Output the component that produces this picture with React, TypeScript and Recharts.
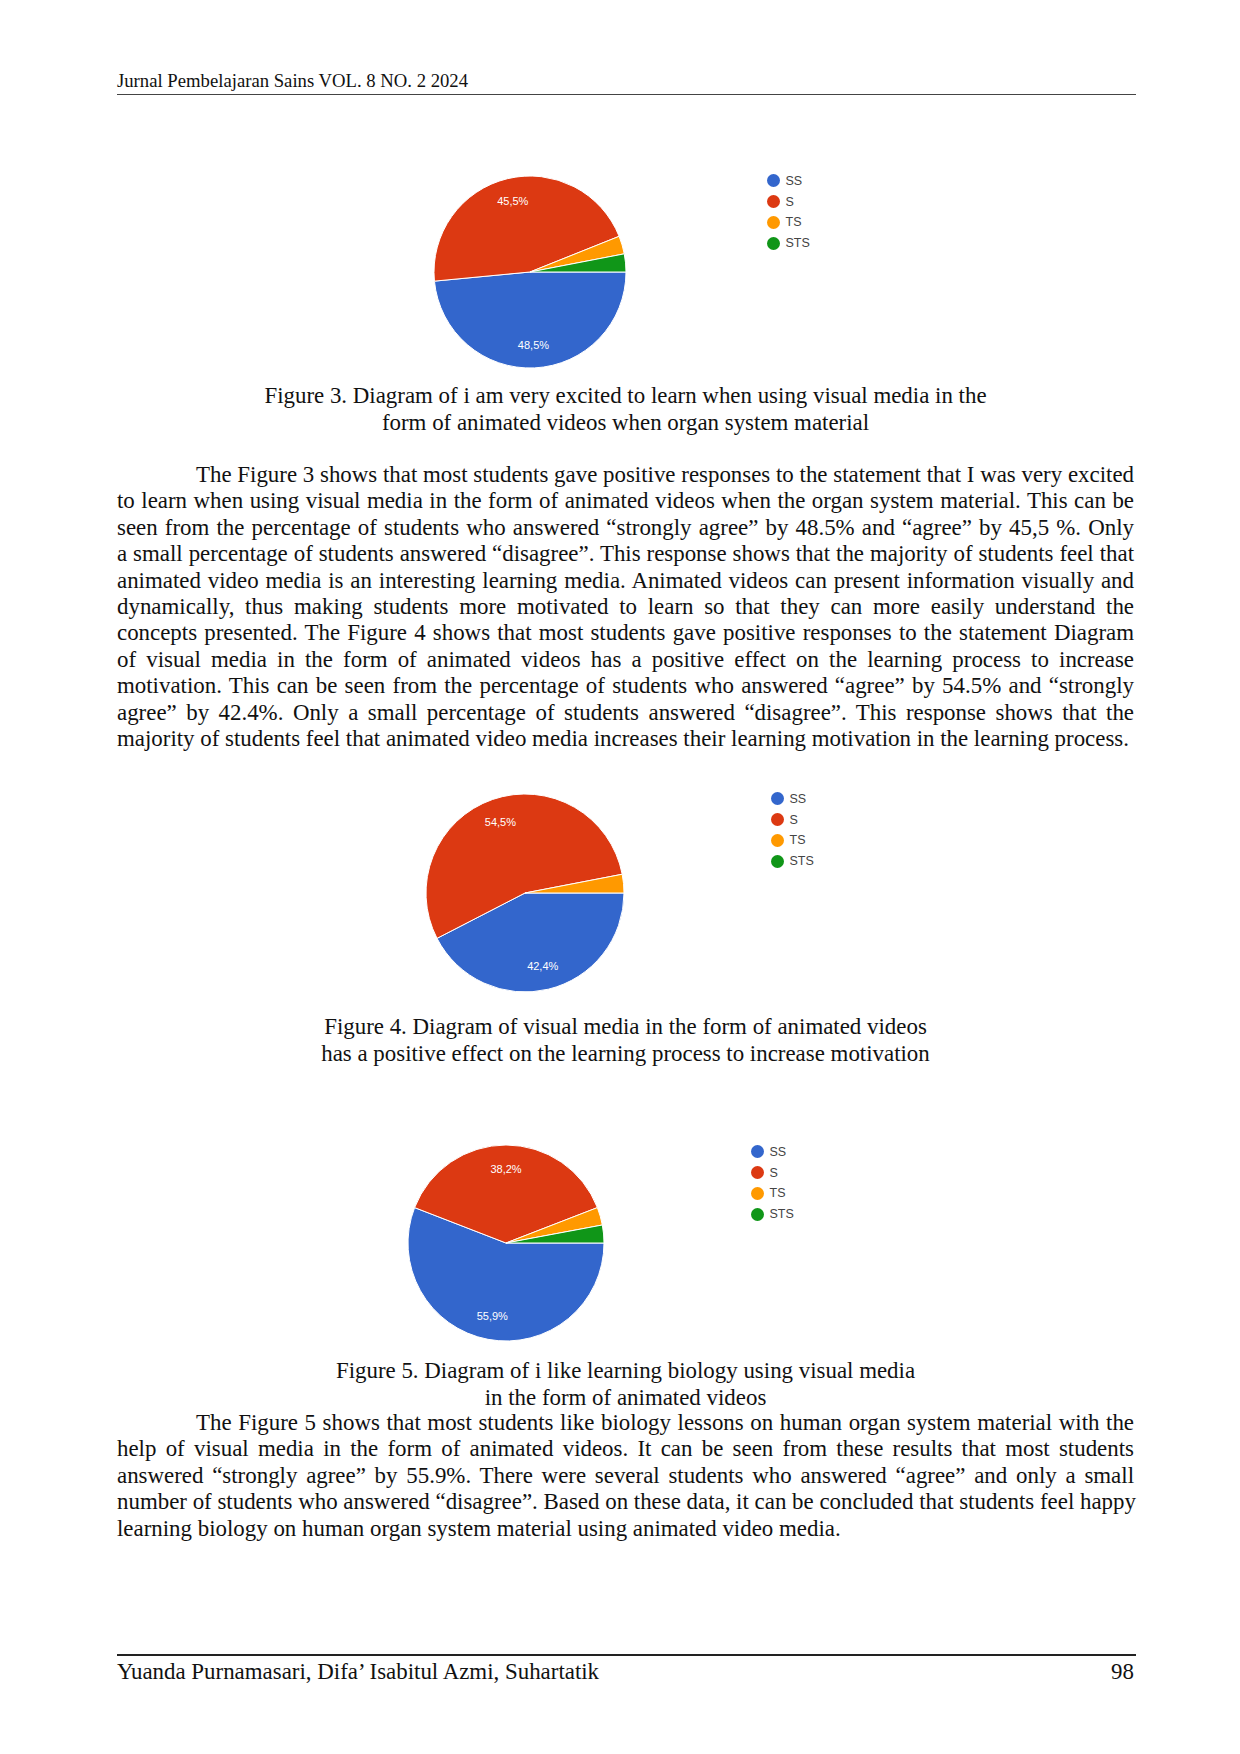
import React from 'react'
import { PieChart, Pie, Cell, Legend } from 'recharts'

// answer categories (Google Forms style)
const categories = ['SS', 'S', 'TS', 'STS']
const sliceColors = ['#3366cc', '#dc3912', '#ff9900', '#109618']

// number of students per category
const fig3Counts = [16, 15, 1, 1]
const fig4Counts = [14, 18, 1, 0]
const fig5Counts = [19, 13, 1, 1]

const headerText = 'Jurnal Pembelajaran Sains VOL. 8 NO. 2 2024'
const footerText = 'Yuanda Purnamasari, Difa\u2019 Isabitul Azmi, Suhartatik'
const pageNumber = '98'

const fig3Caption = [
  'Figure 3. Diagram of i am very excited to learn when using visual media in the',
  'form of animated videos when organ system material',
]
const fig4Caption = [
  'Figure 4. Diagram of visual media in the form of animated videos',
  'has a positive effect on the learning process to increase motivation',
]
const fig5Caption = [
  'Figure 5. Diagram of i like learning biology using visual media',
  'in the form of animated videos',
]

const para1 = [
  'The Figure 3 shows that most students gave positive responses to the statement that I was very excited',
  'to learn when using visual media in the form of animated videos when the organ system material. This can be',
  'seen from the percentage of students who answered \u201cstrongly agree\u201d by 48.5% and \u201cagree\u201d by 45,5 %. Only',
  'a small percentage of students answered \u201cdisagree\u201d. This response shows that the majority of students feel that',
  'animated video media is an interesting learning media. Animated videos can present information visually and',
  'dynamically, thus making students more motivated to learn so that they can more easily understand the',
  'concepts presented. The Figure 4 shows that most students gave positive responses to the statement Diagram',
  'of visual media in the form of animated videos has a positive effect on the learning process to increase',
  'motivation. This can be seen from the percentage of students who answered \u201cagree\u201d by 54.5% and \u201cstrongly',
  'agree\u201d by 42.4%. Only a small percentage of students answered \u201cdisagree\u201d. This response shows that the',
  'majority of students feel that animated video media increases their learning motivation in the learning process.',
]
const para2 = [
  'The Figure 5 shows that most students like biology lessons on human organ system material with the',
  'help of visual media in the form of animated videos. It can be seen from these results that most students',
  'answered \u201cstrongly agree\u201d by 55.9%. There were several students who answered \u201cagree\u201d and only a small',
  'number of students who answered \u201cdisagree\u201d. Based on these data, it can be concluded that students feel happy',
  'learning biology on human organ system material using animated video media.',
]

const TEXT_LEFT = 117
const TEXT_WIDTH = 1017
const BODY_SIZE = 22.9
const SANS = 'Arial, "Liberation Sans", sans-serif'

const RADIAN = Math.PI / 180

const renderLabel = (props: any) => {
  const { cx, cy, midAngle, outerRadius, percent } = props
  if (!percent || percent < 0.05) return null
  const r = outerRadius * 0.76
  const x = cx + r * Math.cos(-midAngle * RADIAN)
  const y = cy + r * Math.sin(-midAngle * RADIAN)
  const txt = (percent * 100).toFixed(1).replace('.', ',') + '%'
  return (
    <text x={x} y={y} fill="#ffffff" textAnchor="middle" dominantBaseline="central" fontSize={11} fontFamily={SANS}>
      {txt}
    </text>
  )
}

const renderLegend = (props: any) => {
  // keep the form's own answer order instead of alphabetical
  const items = [...(props.payload || [])].sort(
    (a: any, b: any) => categories.indexOf(a.value) - categories.indexOf(b.value)
  )
  return (
    <div style={{ fontFamily: SANS, fontSize: 12.5, color: '#444' }}>
      {items.map((entry: any, i: number) => (
        <div key={i} style={{ display: 'flex', alignItems: 'center', height: 20.7 }}>
          <span
            style={{
              display: 'inline-block',
              width: 13,
              height: 13,
              borderRadius: '50%',
              background: entry.color,
              marginRight: 6,
            }}
          />
          <span>{entry.value}</span>
        </div>
      ))}
    </div>
  )
}

type PieProps = {
  counts: number[]
  cx: number
  cy: number
  r: number
  legendX: number
  legendY: number
}

function SurveyPie({ counts, cx, cy, r, legendX, legendY }: PieProps) {
  const data = categories.map((name, i) => ({ name, value: counts[i] }))
  const w = 420
  const h = 240
  const left = cx - 130
  const top = cy - 120
  return (
    <div style={{ position: 'absolute', left, top, width: w, height: h }}>
      <PieChart width={w} height={h} margin={{ top: 0, right: 0, bottom: 0, left: 0 }}>
        <Pie
          data={data}
          dataKey="value"
          nameKey="name"
          cx={130}
          cy={120}
          outerRadius={r}
          startAngle={0}
          endAngle={-360}
          stroke="#ffffff"
          strokeWidth={1}
          label={renderLabel}
          labelLine={false}
          isAnimationActive={false}
        >
          {data.map((d, i) => (
            <Cell key={d.name} fill={sliceColors[i]} />
          ))}
        </Pie>
        <Legend
          content={renderLegend}
          wrapperStyle={{ left: legendX - left - 6.5, top: legendY - top - 10.35, width: 80, height: 90 }}
        />
      </PieChart>
    </div>
  )
}

function TextLine({ text, center, indent = 0, last = false }: { text: string; center: number; indent?: number; last?: boolean }) {
  return (
    <div
      style={{
        position: 'absolute',
        left: TEXT_LEFT + indent,
        top: center - 15,
        width: TEXT_WIDTH - indent,
        whiteSpace: 'nowrap',
        fontSize: BODY_SIZE,
        lineHeight: '26px',
        textAlign: last ? 'left' : 'justify',
        textAlignLast: last ? 'left' : 'justify',
      }}
    >
      {text}
    </div>
  )
}

function Caption({ lines, centers }: { lines: string[]; centers: number[] }) {
  return (
    <>
      {lines.map((t, i) => (
        <div
          key={i}
          style={{
            position: 'absolute',
            left: TEXT_LEFT,
            top: centers[i] - 15,
            width: TEXT_WIDTH,
            textAlign: 'center',
            fontSize: BODY_SIZE,
            lineHeight: '26px',
            whiteSpace: 'nowrap',
          }}
        >
          {t}
        </div>
      ))}
    </>
  )
}

export default function App() {
  return (
    <div
      style={{
        position: 'absolute',
        left: 0,
        top: 0,
        width: 1240,
        height: 1754,
        background: '#ffffff',
        color: '#111',
        fontFamily: '"Liberation Serif", "Times New Roman", serif',
        overflow: 'hidden',
      }}
    >
      {/* running header */}
      <div style={{ position: 'absolute', left: TEXT_LEFT, top: 70, fontSize: 18.7, lineHeight: '22px' }}>{headerText}</div>
      <div style={{ position: 'absolute', left: TEXT_LEFT, top: 94, width: 1019, height: 1, background: '#444' }} />

      <SurveyPie counts={fig3Counts} cx={530} cy={272} r={96} legendX={773} legendY={181} />
      <Caption lines={fig3Caption} centers={[398, 425]} />

      {para1.map((t, i) => (
        <TextLine key={i} text={t} center={477 + i * 26.4} indent={i === 0 ? 79 : 0} last={i === para1.length - 1} />
      ))}

      <SurveyPie counts={fig4Counts} cx={525} cy={893} r={99} legendX={777} legendY={799} />
      <Caption lines={fig4Caption} centers={[1029, 1056]} />

      <SurveyPie counts={fig5Counts} cx={506} cy={1243} r={98} legendX={757} legendY={1152} />
      <Caption lines={fig5Caption} centers={[1373, 1400]} />

      {para2.map((t, i) => (
        <TextLine key={i} text={t} center={1425 + i * 26.4} indent={i === 0 ? 79 : 0} last={i === para2.length - 1} />
      ))}

      {/* footer */}
      <div style={{ position: 'absolute', left: TEXT_LEFT, top: 1654, width: 1019, height: 1.5, background: '#222' }} />
      <div style={{ position: 'absolute', left: TEXT_LEFT, top: 1659, fontSize: BODY_SIZE, lineHeight: '26px' }}>{footerText}</div>
      <div style={{ position: 'absolute', left: TEXT_LEFT, top: 1659, width: TEXT_WIDTH, textAlign: 'right', fontSize: BODY_SIZE, lineHeight: '26px' }}>
        {pageNumber}
      </div>
    </div>
  )
}
